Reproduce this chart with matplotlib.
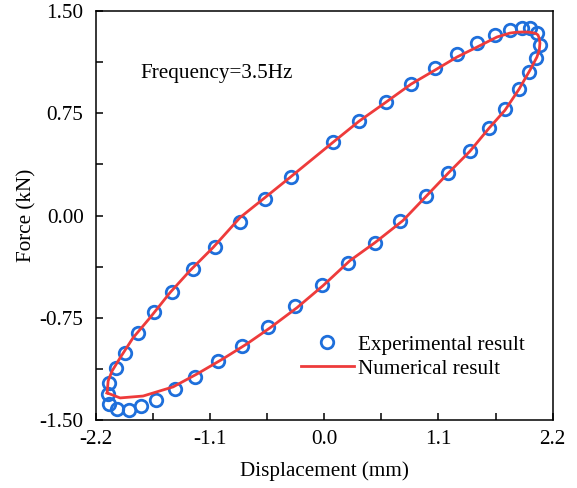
import matplotlib
matplotlib.use('Agg')
import matplotlib.pyplot as plt
from matplotlib.ticker import MultipleLocator

plt.rcParams['font.family'] = ['Liberation Serif', 'DejaVu Serif']

# experimental points (displacement mm, force kN)
exp_disp = [-2.083, -2.074, -1.997, -1.881, -1.766, -1.621, -1.438, -1.246, -1.024, -0.793,
            -0.542, -0.282, -0.022, 0.228, 0.488, 0.729, 0.980, 1.192, 1.403, 1.587,
            1.741, 1.876, 1.972, 2.040, 2.078, 2.049, 1.982, 1.905, 1.789, 1.644,
            1.471, 1.278, 1.066, 0.835, 0.594, 0.334, 0.084, -0.321, -0.571, -0.812,
            -1.053, -1.265, -1.467, -1.641, -1.795, -1.920, -2.007, -2.074]
exp_force = [-1.309, -1.382, -1.419, -1.426, -1.397, -1.353, -1.272, -1.184, -1.066, -0.956,
             -0.816, -0.662, -0.507, -0.346, -0.199, -0.037, 0.140, 0.309, 0.471, 0.640,
             0.779, 0.926, 1.051, 1.154, 1.250, 1.338, 1.375, 1.375, 1.360, 1.324,
             1.265, 1.184, 1.081, 0.963, 0.831, 0.691, 0.537, 0.279, 0.118, -0.051,
             -0.228, -0.390, -0.559, -0.706, -0.860, -1.007, -1.118, -1.228]

# numerical result curve
num_disp = [-2.093, -1.968, -1.746, -1.457, -1.226, -0.976, -0.745, -0.523, -0.263, -0.013,
            0.247, 0.488, 0.758, 0.980, 1.192, 1.403, 1.587, 1.741, 1.876, 1.982,
            2.049, 2.072, 2.078, 2.071, 2.059, 2.040, 2.011, 1.965, 1.914, 1.850, 1.789, 1.664,
            1.471, 1.278, 1.066, 0.835, 0.594, 0.334, 0.084, -0.331, -0.571, -0.812,
            -1.072, -1.294, -1.487, -1.680, -1.843, -1.968, -2.045, -2.083, -2.093]
num_force = [-1.301, -1.338, -1.324, -1.257, -1.162, -1.051, -0.941, -0.824, -0.676, -0.515,
             -0.331, -0.199, -0.037, 0.140, 0.309, 0.471, 0.640, 0.772, 0.926, 1.066,
             1.162, 1.215, 1.265, 1.300, 1.324, 1.334, 1.340, 1.345, 1.346, 1.344, 1.338, 1.309,
             1.235, 1.162, 1.066, 0.963, 0.831, 0.691, 0.537, 0.279, 0.132, -0.015,
             -0.235, -0.404, -0.566, -0.750, -0.897, -1.044, -1.140, -1.213, -1.301]

fig = plt.figure(figsize=(5.77, 4.88), dpi=100)
ax = fig.add_axes([0.1664, 0.1393, 0.7913, 0.8382])

ax.plot(exp_disp, exp_force, 'o', ls='none', ms=9, mfc='none', mec='#1E6FDB', mew=2.0,
        label='Experimental result', zorder=2)
ax.plot(num_disp, num_force, '-', color='#EE3B3B', lw=2.0, label='Numerical result', zorder=3)

ax.set_xlim(-2.2, 2.2)
ax.set_ylim(-1.5, 1.5)
ax.xaxis.set_minor_locator(MultipleLocator(0.55))
ax.yaxis.set_minor_locator(MultipleLocator(0.375))
ax.set_xticks([-2.2, -1.1, 0.0, 1.1, 2.2])
ax.set_xticklabels(['-2.2', '-1.1', '0.0', '1.1', '2.2'])
ax.set_yticks([-1.5, -0.75, 0.0, 0.75, 1.5])
ax.set_yticklabels(['-1.50', '-0.75', '0.00', '0.75', '1.50'])

ax.tick_params(which='both', direction='in', top=False, right=False, width=1.1,
               length=5, labelsize=15.2)
ax.tick_params(axis='x', pad=7)
ax.tick_params(axis='y', pad=9)
for s in ax.spines.values():
    s.set_linewidth(1.1)

ax.set_xlabel('Displacement (mm)', fontsize=15.2, labelpad=9)
ax.set_ylabel('Force (kN)', fontsize=15.2, labelpad=2)

ax.text(-1.77, 1.045, 'Frequency=3.5Hz', fontsize=15.2, va='center', ha='left')

ax.legend(loc='lower left', bbox_to_anchor=(0.43, 0.08), frameon=False, fontsize=15.2,
          handlelength=2.5, handletextpad=0.2, labelspacing=0.2, numpoints=1,
          borderaxespad=0)

fig.savefig('out.png', dpi=100)
